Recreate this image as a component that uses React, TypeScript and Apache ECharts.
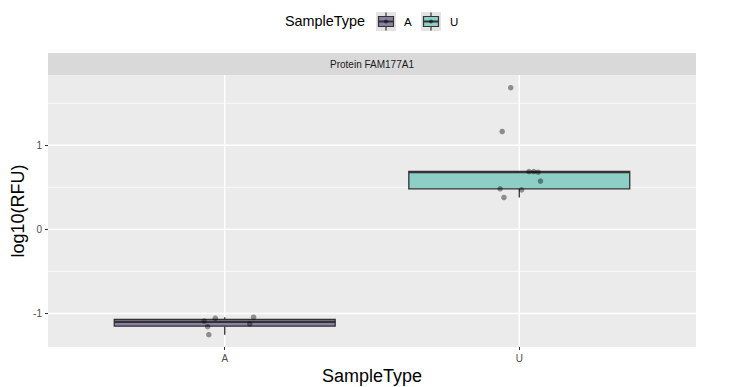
import React, { useEffect, useRef } from "react";
import * as echarts from "echarts";

const FONT = "'Liberation Sans', Arial, Helvetica, sans-serif";

const categories = ["A", "U"];
const categoryPositions = [1, 2];
// [min, q1, median, q3, max]
const boxStats = [
  [-1.252, -1.151, -1.101, -1.071, -1.045],
  [0.379, 0.482, 0.68, 0.688, 0.688],
];
const pointsA = [
  [0.93, -1.09],
  [0.968, -1.057],
  [0.942, -1.157],
  [0.946, -1.252],
  [1.085, -1.125],
  [1.098, -1.045],
];
const pointsU = [
  [1.971, 1.685],
  [1.942, 1.164],
  [2.033, 0.688],
  [2.049, 0.688],
  [2.064, 0.68],
  [2.072, 0.574],
  [1.935, 0.482],
  [2.008, 0.47],
  [1.948, 0.379],
];
const yMajor = [-1, 0, 1];
const yMinor = [-0.5, 0.5, 1.5];
const yTickLabels = ["-1", "0", "1"];
const boxColors = ["#8A80A3", "#8DCEC6"];
const facetTitle = "Protein FAM177A1";
const legendTitle = "SampleType";
const xTitle = "SampleType";
const yTitle = "log10(RFU)";

const X_MIN = 0.4;
const X_MAX = 2.6;
const Y_MIN = -1.399;
const Y_MAX = 1.836;

function legendKey(x: number, color: string) {
  return {
    type: "group",
    x,
    y: 12,
    children: [
      { type: "rect", shape: { x: 0, y: 0, width: 20, height: 19 }, style: { fill: "#E3E3E3" } },
      { type: "line", shape: { x1: 10, y1: 0.5, x2: 10, y2: 18.5 }, style: { stroke: "#333333", lineWidth: 1.2 } },
      {
        type: "rect",
        shape: { x: 2.5, y: 4.5, width: 15, height: 10 },
        style: { fill: color, stroke: "#333333", lineWidth: 1.2 },
      },
      { type: "line", shape: { x1: 2.5, y1: 9.5, x2: 17.5, y2: 9.5 }, style: { stroke: "#333333", lineWidth: 2 } },
      { type: "circle", shape: { cx: 10, cy: 9.5, r: 2 }, style: { fill: "rgba(0,0,0,0.5)" } },
    ],
  };
}

export default function App() {
  const ref = useRef<HTMLDivElement>(null);
  useEffect(() => {
    if (!ref.current) return;
    const chart = echarts.init(ref.current, undefined, { renderer: "svg" });

    const hLine = (width: number) => (params: any, api: any) => {
      const v = api.value(1);
      const cs = params.coordSys;
      const p = api.coord([1, v]);
      return {
        type: "line",
        silent: true,
        shape: { x1: cs.x, y1: p[1], x2: cs.x + cs.width, y2: p[1] },
        style: { stroke: "#FFFFFF", lineWidth: width },
      };
    };
    const vLine = (params: any, api: any) => {
      const v = api.value(0);
      const cs = params.coordSys;
      const p = api.coord([v, 0]);
      return {
        type: "line",
        silent: true,
        shape: { x1: p[0], y1: cs.y, x2: p[0], y2: cs.y + cs.height },
        style: { stroke: "#FFFFFF", lineWidth: 1.4 },
      };
    };

    const boxData = boxStats.map((s, i) => [categoryPositions[i], ...s, i]);

    const option: any = {
      animation: false,
      textStyle: { fontFamily: FONT },
      grid: {
        left: 48,
        right: 34,
        top: 75,
        bottom: 40,
        show: true,
        backgroundColor: "#EBEBEB",
        borderWidth: 0,
        containLabel: false,
        outerBoundsMode: "none",
      },
      xAxis: {
        type: "value",
        min: X_MIN,
        max: X_MAX,
        splitLine: { show: false },
        axisLine: { show: false, onZero: false },
        axisTick: { show: true, length: 3, lineStyle: { color: "#333333", width: 1 }, customValues: categoryPositions },
        axisLabel: {
          customValues: categoryPositions,
          formatter: (v: number) => {
            const i = categoryPositions.indexOf(v);
            return i >= 0 ? categories[i] : "";
          },
          color: "#4D4D4D",
          fontSize: 10,
          margin: 6,
          fontFamily: FONT,
        },
        name: xTitle,
        nameLocation: "middle",
        nameGap: 20,
        nameMoveOverlap: false,
        nameTextStyle: { fontSize: 18, color: "#000000", fontFamily: FONT },
      },
      yAxis: {
        type: "value",
        min: Y_MIN,
        max: Y_MAX,
        splitLine: { show: false },
        axisLine: { show: false, onZero: false },
        axisTick: { show: true, length: 3, lineStyle: { color: "#333333", width: 1 }, customValues: yMajor },
        axisLabel: {
          customValues: yMajor,
          formatter: (v: number) => {
            const i = yMajor.indexOf(v);
            return i >= 0 ? yTickLabels[i] : "";
          },
          color: "#4D4D4D",
          fontSize: 10,
          margin: 6,
          fontFamily: FONT,
        },
        name: yTitle,
        nameLocation: "middle",
        nameGap: 21,
        nameMoveOverlap: false,
        nameRotate: 90,
        nameTextStyle: { fontSize: 18, color: "#000000", fontFamily: FONT },
      },
      graphic: [
        {
          type: "rect",
          silent: true,
          shape: { x: 48, y: 53, width: 648, height: 22 },
          style: { fill: "#D9D9D9" },
        },
        {
          type: "text",
          x: 372,
          y: 64.5,
          style: {
            text: facetTitle,
            fill: "#1A1A1A",
            fontSize: 10,
            fontFamily: FONT,
            align: "center",
            verticalAlign: "middle",
          },
        },
        {
          type: "text",
          x: 285,
          y: 21,
          style: {
            text: legendTitle,
            fill: "#000000",
            fontSize: 14.4,
            fontFamily: FONT,
            align: "left",
            verticalAlign: "middle",
          },
        },
        legendKey(376, boxColors[0]),
        {
          type: "text",
          x: 404,
          y: 21.5,
          style: { text: categories[0], fill: "#000000", fontSize: 11.5, fontFamily: FONT, align: "left", verticalAlign: "middle" },
        },
        legendKey(421, boxColors[1]),
        {
          type: "text",
          x: 450,
          y: 21.5,
          style: { text: categories[1], fill: "#000000", fontSize: 11.5, fontFamily: FONT, align: "left", verticalAlign: "middle" },
        },
      ],
      series: [
        {
          type: "custom",
          z: 1,
          silent: true,
          data: yMinor.map((v) => [1, v]),
          renderItem: hLine(0.7),
        },
        {
          type: "custom",
          z: 1,
          silent: true,
          data: yMajor.map((v) => [1, v]),
          renderItem: hLine(1.4),
        },
        {
          type: "custom",
          z: 1,
          silent: true,
          data: categoryPositions.map((v) => [v, 0]),
          renderItem: vLine,
        },
        {
          type: "custom",
          z: 2,
          silent: true,
          data: boxData,
          encode: { x: 0, y: [1, 2, 3, 4, 5] },
          renderItem: (params: any, api: any) => {
            const x = api.value(0);
            const idx = api.value(6);
            const half = 0.375;
            const pMin = api.coord([x, api.value(1)]);
            const pQ1 = api.coord([x, api.value(2)]);
            const pMed = api.coord([x, api.value(3)]);
            const pQ3 = api.coord([x, api.value(4)]);
            const pMax = api.coord([x, api.value(5)]);
            const left = api.coord([x - half, 0])[0];
            const right = api.coord([x + half, 0])[0];
            const stroke = "#333333";
            return {
              type: "group",
              children: [
                { type: "line", shape: { x1: pMin[0], y1: pMin[1], x2: pQ1[0], y2: pQ1[1] }, style: { stroke, lineWidth: 1.3 } },
                { type: "line", shape: { x1: pMax[0], y1: pMax[1], x2: pQ3[0], y2: pQ3[1] }, style: { stroke, lineWidth: 1.3 } },
                {
                  type: "rect",
                  shape: { x: left, y: pQ3[1], width: right - left, height: pQ1[1] - pQ3[1] },
                  style: { fill: boxColors[idx], stroke, lineWidth: 1.3 },
                },
                { type: "line", shape: { x1: left, y1: pMed[1], x2: right, y2: pMed[1] }, style: { stroke, lineWidth: 2.2 } },
              ],
            };
          },
        },
        {
          type: "scatter",
          z: 3,
          silent: true,
          symbol: "circle",
          symbolSize: 5.5,
          itemStyle: { color: "rgba(0,0,0,0.5)" },
          data: pointsA,
        },
        {
          type: "scatter",
          z: 3,
          silent: true,
          symbol: "circle",
          symbolSize: 5.5,
          itemStyle: { color: "rgba(0,0,0,0.5)" },
          data: pointsU,
        },
      ],
    };
    chart.setOption(option);
    return () => chart.dispose();
  }, []);
  return <div ref={ref} style={{ width: 730, height: 387, position: "absolute", left: 0, top: 0 }} />;
}
